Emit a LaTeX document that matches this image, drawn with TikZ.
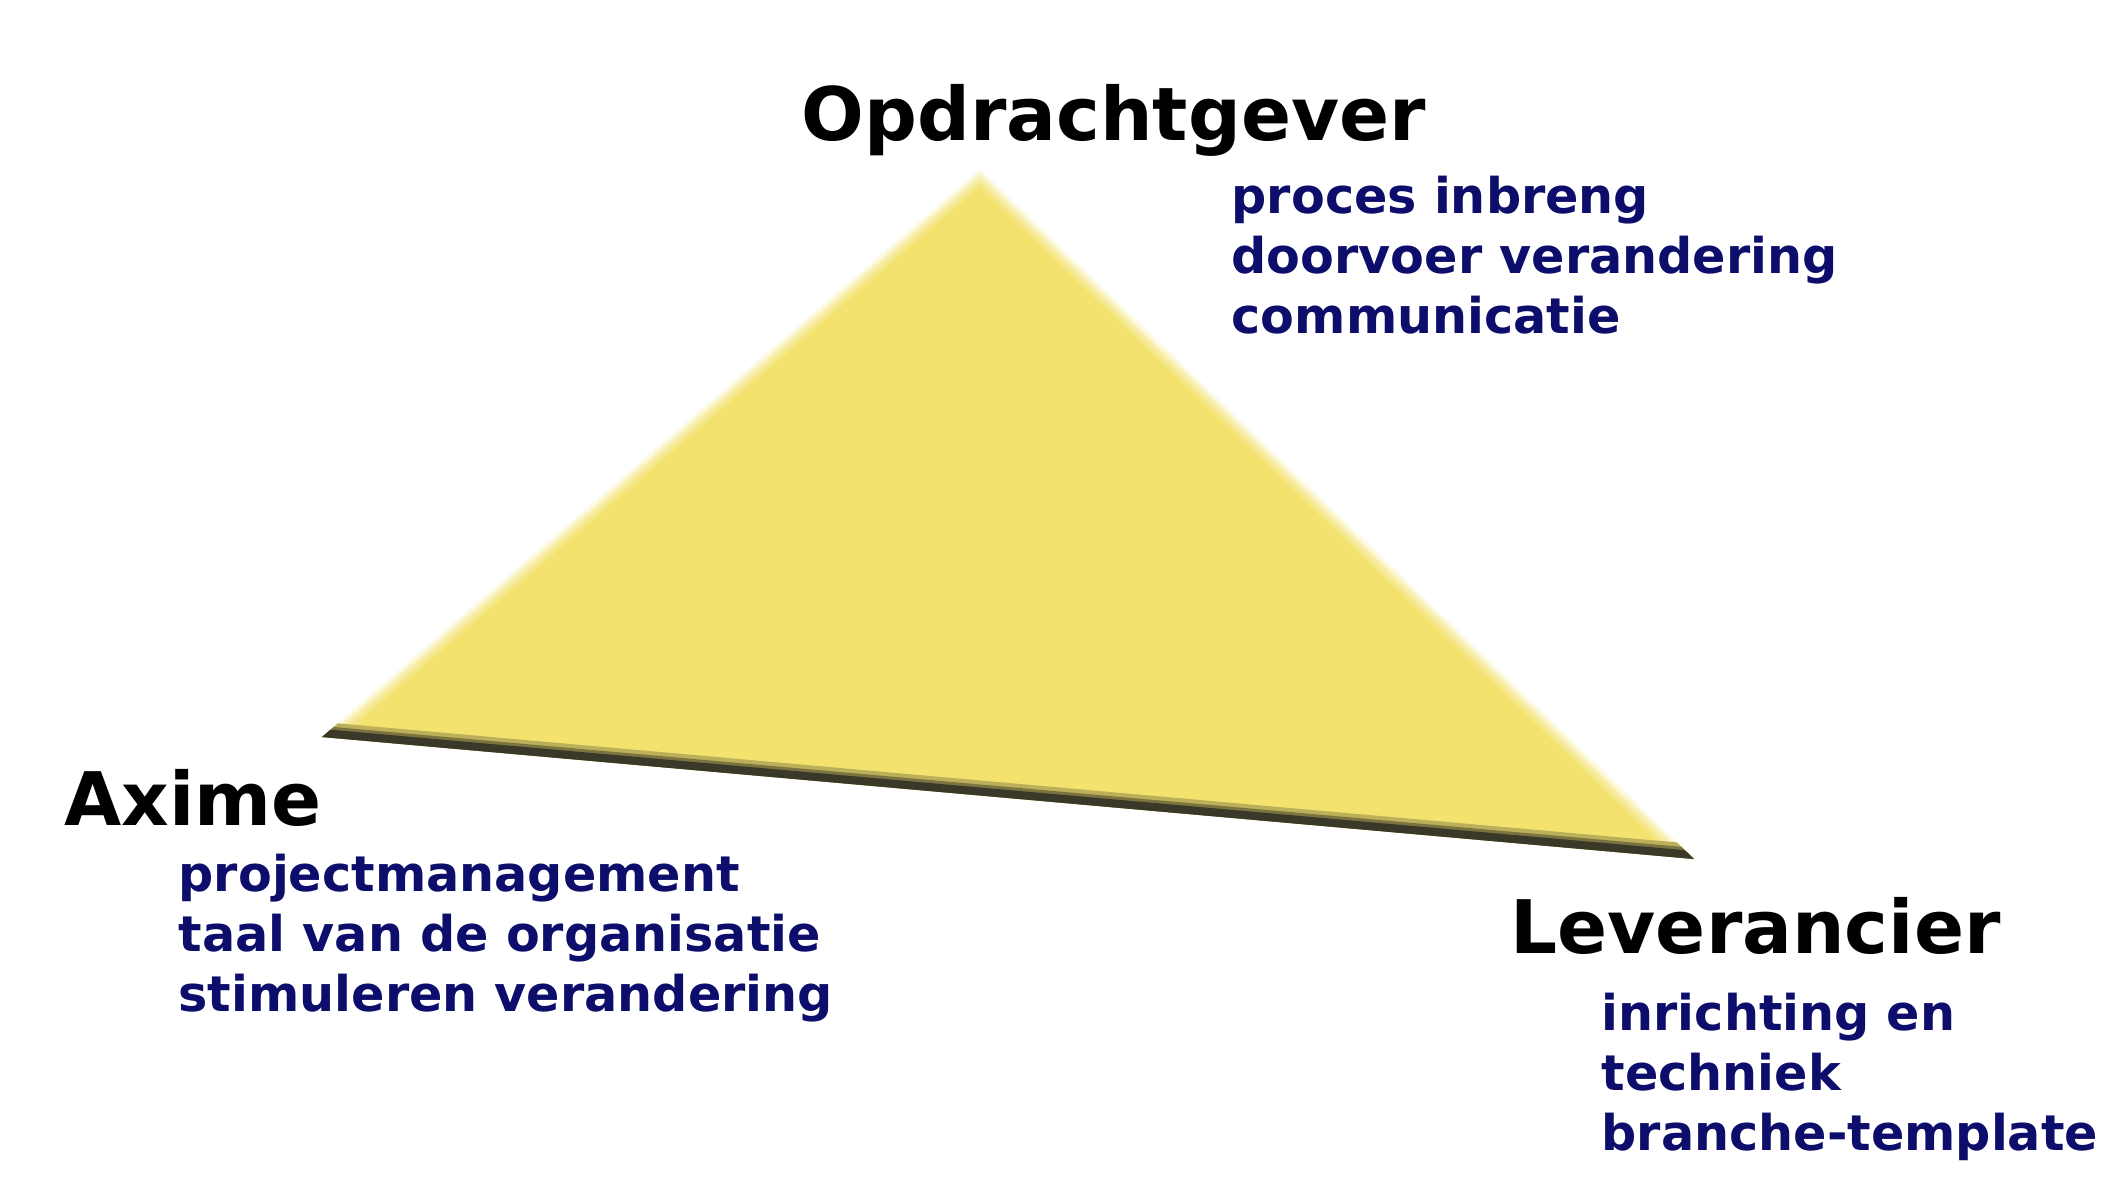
\documentclass[tikz,border=0pt]{standalone}
\usepackage{fontspec}
\setmainfont{DejaVu Sans}
\definecolor{driegeel}{RGB}{243,226,110}
\definecolor{driedonker}{RGB}{58,56,40}
\definecolor{taakblauw}{RGB}{13,13,107}
\tikzset{
  partij/.style={anchor=base west, inner sep=0pt, font=\fontsize{21}{26}\selectfont\bfseries},
  taken/.style={anchor=base west, inner sep=0pt, align=left, text=taakblauw,
    font=\fontsize{14}{17}\selectfont\bfseries},
}
\begin{document}
\begin{tikzpicture}[x=0.01cm,y=-0.01cm]
  \useasboundingbox (0,0) rectangle (2128,1194);
  \coordinate (top) at (980,170);
  \coordinate (links) at (322,737);
  \coordinate (rechts) at (1694,859);

  % driehoek met zachte randen
  \fill [driegeel] (top) -- (links) -- (rechts) -- cycle;
  \begin{scope}
    \clip (top) -- (links) -- (rechts) -- cycle;
    \draw [line width=0.26cm, driegeel!85!white] (links) -- (top) -- (rechts);
    \draw [line width=0.18cm, driegeel!65!white] (links) -- (top) -- (rechts);
    \draw [line width=0.10cm, driegeel!40!white] (links) -- (top) -- (rechts);
    \draw [line width=0.04cm, driegeel!15!white] (links) -- (top) -- (rechts);
    \draw [line width=0.30cm, driegeel!70!driedonker] (links) -- (rechts);
    \draw [line width=0.22cm, driegeel!35!driedonker] (links) -- (rechts);
    \draw [line width=0.16cm, driedonker] (links) -- (rechts);
  \end{scope}

  % (base = basislijn van de laatste regel)
  \node [partij] (opdrachtgever) at (801,140) {Opdrachtgever};
  \node [taken] (opdrachtgever-taken) at (1231,333) {proces inbreng\\doorvoer verandering\\communicatie};

  \node [partij] (axime) at (64,825) {Axime};
  \node [taken] (axime-taken) at (178,1011) {projectmanagement\\taal van de organisatie\\stimuleren verandering};

  \node [partij] (leverancier) at (1510,953) {Leverancier};
  \node [taken] (leverancier-taken) at (1601,1150) {inrichting en\\techniek\\branche-template};
\end{tikzpicture}
\end{document}
